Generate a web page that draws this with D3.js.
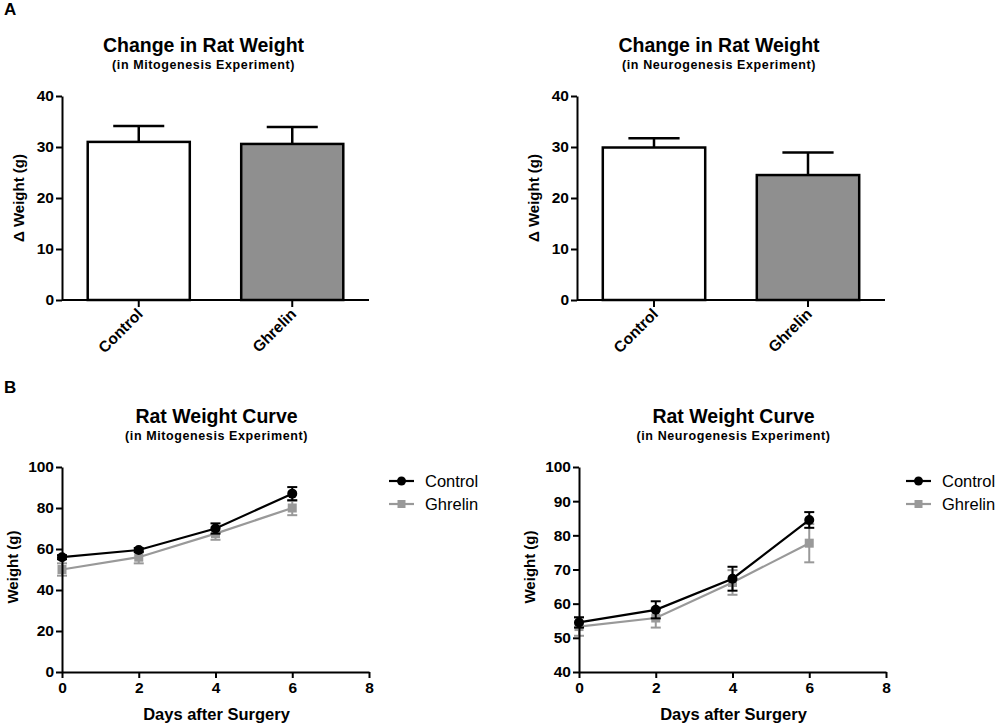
<!DOCTYPE html>
<html>
<head>
<meta charset="utf-8">
<script src="https://cdn.jsdelivr.net/npm/d3@7.9.0/dist/d3.min.js"></script>
<style>
  body { margin: 0; background: #fff; }
  svg { font-family: "Liberation Sans", Arial, sans-serif; }
  .axis path, .axis line { stroke: #000; stroke-width: 2; }
  .axis text { font-size: 15.5px; font-weight: bold; fill: #000; }
</style>
</head>
<body>
<svg id="chart" width="1000" height="728"></svg>
<script>
// bar charts (panel A)
const barCategories = ['Control', 'Ghrelin'];
const mitoBarMean = [31.0, 30.6];
const mitoBarErr = [3.1, 3.3];
const neuroBarMean = [29.9, 24.5];
const neuroBarErr = [1.8, 4.4];
const barTicks = [0, 10, 20, 30, 40];

// weight curves (panel B)
const days = [0, 2, 4, 6];
const dayTicks = [0, 2, 4, 6, 8];
const mitoControl = [56.0, 59.5, 70.0, 87.0];
const mitoControlErr = [1.0, 1.0, 2.5, 3.2];
const mitoGhrelin = [50.0, 56.0, 67.5, 80.0];
const mitoGhrelinErr = [3.0, 3.0, 3.0, 3.5];
const neuroControl = [54.5, 58.2, 67.3, 84.5];
const neuroControlErr = [1.5, 2.5, 3.5, 2.3];
const neuroGhrelin = [53.3, 55.8, 66.2, 77.7];
const neuroGhrelinErr = [2.7, 2.8, 3.6, 5.6];
const seriesNames = ['Control', 'Ghrelin'];

const svg = d3.select('#chart');
const gray = '#999999';

svg.append('text').attr('x', 4).attr('y', 15)
  .attr('font-size', 17).attr('font-weight', 'bold').text('A');
svg.append('text').attr('x', 4).attr('y', 393)
  .attr('font-size', 17).attr('font-weight', 'bold').text('B');

function titles(g, cx, y, title, sub) {
  g.append('text').attr('x', cx).attr('y', y)
    .attr('text-anchor', 'middle').attr('font-size', 19.5).attr('font-weight', 'bold')
    .text(title);
  g.append('text').attr('x', cx).attr('y', y + 17)
    .attr('text-anchor', 'middle').attr('font-size', 12.5).attr('font-weight', 'bold')
    .attr('letter-spacing', 0.6)
    .text(sub);
}

function yLabel(g, x, y, label) {
  g.append('text')
    .attr('transform', `translate(${x},${y}) rotate(-90)`)
    .attr('text-anchor', 'middle').attr('font-size', 15).attr('font-weight', 'bold')
    .text(label);
}

function barChart(left, right, mean, err, sub) {
  const g = svg.append('g');
  const x = d3.scaleBand().domain(barCategories).range([left, right])
    .paddingInner(0.335).paddingOuter(0.1675);
  const y = d3.scaleLinear().domain([0, 40]).range([300, 96]);

  titles(g, (left + right) / 2 - 12, 52, 'Change in Rat Weight', sub);

  // error bars (upper only)
  barCategories.forEach((c, i) => {
    const cx = x(c) + x.bandwidth() / 2;
    g.append('line').attr('x1', cx).attr('x2', cx)
      .attr('y1', y(mean[i])).attr('y2', y(mean[i] + err[i]))
      .attr('stroke', '#000').attr('stroke-width', 2.5);
    g.append('line').attr('x1', cx - x.bandwidth() / 4).attr('x2', cx + x.bandwidth() / 4)
      .attr('y1', y(mean[i] + err[i])).attr('y2', y(mean[i] + err[i]))
      .attr('stroke', '#000').attr('stroke-width', 2.5);
  });

  g.selectAll('rect.bar').data(barCategories).join('rect')
    .attr('class', 'bar')
    .attr('x', d => x(d))
    .attr('width', x.bandwidth())
    .attr('y', (d, i) => y(mean[i]))
    .attr('height', (d, i) => y(0) - y(mean[i]))
    .attr('fill', (d, i) => i === 0 ? '#ffffff' : '#8f8f8f')
    .attr('stroke', '#000').attr('stroke-width', 2.5);

  g.append('g').attr('class', 'axis')
    .attr('transform', `translate(${left},0)`)
    .call(d3.axisLeft(y).tickValues(barTicks).tickSize(6).tickSizeOuter(0).tickPadding(2));

  const xa = g.append('g').attr('class', 'axis')
    .attr('transform', 'translate(0,300)')
    .call(d3.axisBottom(x).tickSize(7).tickSizeOuter(0));
  xa.select('.domain').attr('d', `M${left},0H${right}`);
  xa.selectAll('text')
    .attr('text-anchor', 'end')
    .attr('dy', 0).attr('y', 0)
    .attr('transform', 'translate(5,15) rotate(-45)');

  yLabel(g, left - 38, 198, '\u0394 Weight (g)');
}

barChart(62, 369, mitoBarMean, mitoBarErr, '(in Mitogenesis Experiment)');
barChart(577, 885, neuroBarMean, neuroBarErr, '(in Neurogenesis Experiment)');

function curveChart(left, right, yDomain, yTicks, ctrl, ctrlErr, ghr, ghrErr, sub) {
  const g = svg.append('g');
  const x = d3.scaleLinear().domain([0, 8]).range([left, right]);
  const y = d3.scaleLinear().domain(yDomain).range([672, 467]);

  titles(g, (left + right) / 2 + 1, 423, 'Rat Weight Curve', sub);

  const series = [
    { name: seriesNames[0], vals: ctrl, err: ctrlErr, color: '#000', shape: 'circle' },
    { name: seriesNames[1], vals: ghr, err: ghrErr, color: gray, shape: 'square' }
  ];
  const line = d3.line().x((d, i) => x(days[i])).y(d => y(d));

  // draw grey first, black on top
  [series[1], series[0]].forEach(s => {
    const sg = g.append('g');
    s.vals.forEach((v, i) => {
      const cx = x(days[i]);
      const lo = y(v - s.err[i]), hi = y(v + s.err[i]);
      sg.append('line').attr('x1', cx).attr('x2', cx).attr('y1', lo).attr('y2', hi)
        .attr('stroke', s.color).attr('stroke-width', 2);
      [lo, hi].forEach(yy => sg.append('line')
        .attr('x1', cx - 5).attr('x2', cx + 5).attr('y1', yy).attr('y2', yy)
        .attr('stroke', s.color).attr('stroke-width', 2));
    });
    sg.append('path').datum(s.vals).attr('d', line)
      .attr('fill', 'none').attr('stroke', s.color).attr('stroke-width', 2.2);
    s.vals.forEach((v, i) => {
      if (s.shape === 'circle') {
        sg.append('circle').attr('cx', x(days[i])).attr('cy', y(v)).attr('r', 5)
          .attr('fill', s.color);
      } else {
        sg.append('rect').attr('x', x(days[i]) - 4.5).attr('y', y(v) - 4.5)
          .attr('width', 9).attr('height', 9).attr('fill', s.color);
      }
    });
  });

  g.append('g').attr('class', 'axis')
    .attr('transform', `translate(${left},0)`)
    .call(d3.axisLeft(y).tickValues(yTicks).tickSize(6).tickSizeOuter(0).tickPadding(2));
  g.append('g').attr('class', 'axis')
    .attr('transform', 'translate(0,672)')
    .call(d3.axisBottom(x).tickValues(dayTicks).tickSize(6).tickSizeOuter(0).tickPadding(4));

  yLabel(g, left - 44, 567, 'Weight (g)');
  g.append('text').attr('x', (left + right) / 2 + 1).attr('y', 720)
    .attr('text-anchor', 'middle').attr('font-size', 16.5).attr('font-weight', 'bold')
    .text('Days after Surgery');

  // legend
  const lx = right + 20;
  series.forEach((s, i) => {
    const ly = 481 + i * 23;
    g.append('line').attr('x1', lx).attr('x2', lx + 25).attr('y1', ly).attr('y2', ly)
      .attr('stroke', s.color).attr('stroke-width', 2.2);
    if (s.shape === 'circle') {
      g.append('circle').attr('cx', lx + 12.5).attr('cy', ly).attr('r', 4.5).attr('fill', s.color);
    } else {
      g.append('rect').attr('x', lx + 8.5).attr('y', ly - 4).attr('width', 8).attr('height', 8)
        .attr('fill', s.color);
    }
    g.append('text').attr('x', lx + 36).attr('y', ly + 6)
      .attr('font-size', 16.5).text(s.name);
  });
}

curveChart(62, 369, [0, 100], [0, 20, 40, 60, 80, 100],
  mitoControl, mitoControlErr, mitoGhrelin, mitoGhrelinErr, '(in Mitogenesis Experiment)');
curveChart(579, 886, [40, 100], [40, 50, 60, 70, 80, 90, 100],
  neuroControl, neuroControlErr, neuroGhrelin, neuroGhrelinErr, '(in Neurogenesis Experiment)');
</script>
</body>
</html>
